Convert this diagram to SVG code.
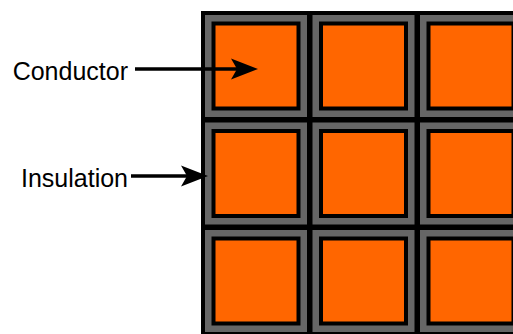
<svg xmlns="http://www.w3.org/2000/svg" xmlns:xlink="http://www.w3.org/1999/xlink" width="513" height="334" viewBox="0 0 513 334">
  <style>
    .jacket { fill: #666666; stroke: #000000; stroke-width: 4; }
    .core { fill: #ff6600; stroke: #000000; stroke-width: 4; }
    .lead { stroke: #000000; stroke-width: 3.5; fill: none; }
    .label { font-family: "Liberation Sans", Arial, sans-serif; font-size: 25px; fill: #000000; text-anchor: end; }
  </style>
  <defs>
    <!-- one wire: grey insulation jacket around an orange conductor core -->
    <g id="wire">
      <rect class="jacket" x="2" y="2" width="106" height="106"/>
      <rect class="core" x="12.5" y="12.5" width="85" height="85"/>
    </g>
    <marker id="arrowhead" markerUnits="userSpaceOnUse" viewBox="-8 -12 32 24" markerWidth="32" markerHeight="24" refX="0" refY="0" orient="auto">
      <path d="M21,0 L-6,-10.5 L0,0 L-6,10.5 Z" fill="#000000"/>
    </marker>
  </defs>

  <!-- 3x3 bundle of insulated conductors -->
  <g id="wires">
    <g id="wire-r1c1" transform="translate(201,11)"><use xlink:href="#wire"/></g>
    <g id="wire-r1c2" transform="translate(308.5,11)"><use xlink:href="#wire"/></g>
    <g id="wire-r1c3" transform="translate(416,11)"><use xlink:href="#wire"/></g>
    <g id="wire-r2c1" transform="translate(201,118.5)"><use xlink:href="#wire"/></g>
    <g id="wire-r2c2" transform="translate(308.5,118.5)"><use xlink:href="#wire"/></g>
    <g id="wire-r2c3" transform="translate(416,118.5)"><use xlink:href="#wire"/></g>
    <g id="wire-r3c1" transform="translate(201,226)"><use xlink:href="#wire"/></g>
    <g id="wire-r3c2" transform="translate(308.5,226)"><use xlink:href="#wire"/></g>
    <g id="wire-r3c3" transform="translate(416,226)"><use xlink:href="#wire"/></g>
  </g>

  <!-- labels -->
  <g id="label-conductor"><text class="label" x="128" y="80">Conductor</text></g>
  <g id="label-insulation"><text class="label" x="128" y="187">Insulation</text></g>

  <!-- leader arrows -->
  <g id="connectors">
    <line class="lead" x1="135" y1="69" x2="237" y2="69" marker-end="url(#arrowhead)"/>
    <line class="lead" x1="131" y1="176" x2="187" y2="176" marker-end="url(#arrowhead)"/>
  </g>
</svg>
